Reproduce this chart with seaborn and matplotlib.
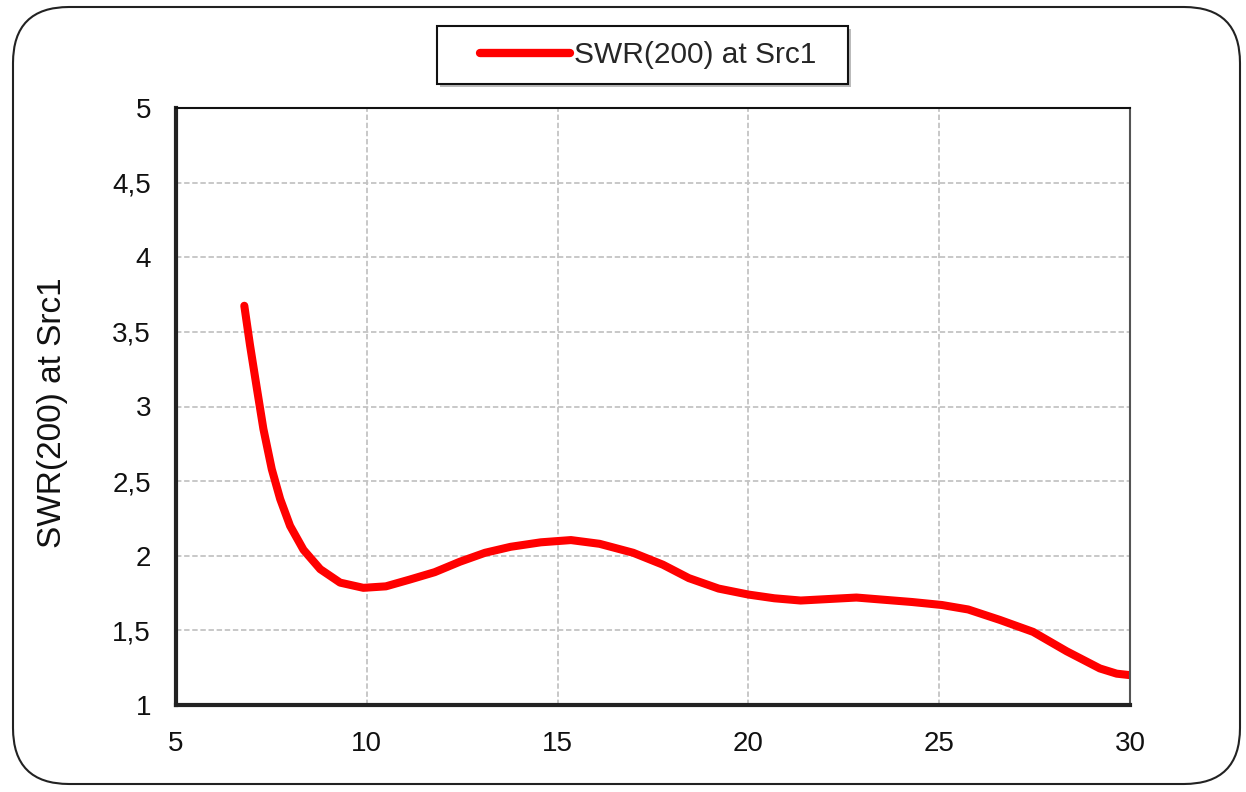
import numpy as np
import pandas as pd
import seaborn as sns
from matplotlib import pyplot as plt
from matplotlib.patches import FancyBboxPatch, Rectangle
from matplotlib.ticker import FixedLocator, FixedFormatter

# values
freq = [6.79, 6.94, 7.12, 7.29, 7.51, 7.73, 7.99, 8.34, 8.78, 9.30, 9.91, 10.5,
        11.12, 11.78, 12.44, 13.1, 13.77, 14.56, 15.35, 16.1, 16.98, 17.76, 18.44,
        19.22, 20.0, 20.68, 21.37, 22.83, 24.29, 25.07, 25.76, 26.59, 27.46, 28.34,
        29.21, 29.65, 30.0]
swr = [3.675, 3.41, 3.12, 2.85, 2.58, 2.38, 2.20, 2.04, 1.91, 1.82, 1.785, 1.795,
       1.84, 1.89, 1.96, 2.02, 2.06, 2.09, 2.105, 2.08, 2.02, 1.94, 1.85,
       1.78, 1.74, 1.715, 1.70, 1.72, 1.69, 1.67, 1.64, 1.57, 1.49, 1.36,
       1.245, 1.21, 1.2]
series_name = 'SWR(200) at Src1'

x_ticks = [5, 10, 15, 20, 25, 30]
y_ticks = [1, 1.5, 2, 2.5, 3, 3.5, 4, 4.5, 5]
y_tick_labels = ['1', '1,5', '2', '2,5', '3', '3,5', '4', '4,5', '5']

df = pd.DataFrame({'freq': freq, 'swr': swr, 'series': series_name})

sns.set_style('white')
plt.rcParams['font.family'] = ['Liberation Sans', 'DejaVu Sans']

W, H = 1246, 792
fig = plt.figure(figsize=(W / 100, H / 100), dpi=100)
ax = fig.add_axes([176 / W, 1 - 705 / H, (1130 - 176) / W, (705 - 108) / H])

# rounded outer frame
fig.patches.append(FancyBboxPatch((13 / W, 8 / H), (1240 - 13) / W, (785 - 8) / H,
                                  boxstyle='round,pad=0,rounding_size=0.045',
                                  transform=fig.transFigure, fill=False,
                                  edgecolor='#222222', linewidth=1.5,
                                  mutation_aspect=W / H))

sns.lineplot(data=df, x='freq', y='swr', hue='series', palette=['#ff0000'],
             linewidth=5.8, ax=ax, legend=True)
for ln in ax.lines:
    ln.set_solid_capstyle('round')
    ln.set_solid_joinstyle('round')

ax.set_xlim(5, 30)
ax.set_ylim(1, 5)
ax.xaxis.set_major_locator(FixedLocator(x_ticks))
ax.yaxis.set_major_locator(FixedLocator(y_ticks))
ax.yaxis.set_major_formatter(FixedFormatter(y_tick_labels))
ax.grid(True, color='#c4c4c4', linestyle=(0, (3, 1.5)), linewidth=1.3)
ax.set_axisbelow(True)

for side in ['left', 'bottom']:
    ax.spines[side].set_linewidth(3)
    ax.spines[side].set_color('#222222')
ax.spines['top'].set_linewidth(1.5)
ax.spines['top'].set_color('#111111')
ax.spines['right'].set_linewidth(1.5)
ax.spines['right'].set_color('#555555')

ax.tick_params(axis='both', direction='out', length=7, width=1.5, color='#333333',
               labelsize=20, labelcolor='#111111')
ax.tick_params(axis='y', pad=11)
ax.tick_params(axis='x', pad=12)
ax.set_xlabel('')
ax.set_ylabel(series_name, fontsize=24, color='#111111')
ax.yaxis.set_label_coords(-0.113, 0.49)

# legend box drawn by hand so the padding matches
handles, labels = ax.get_legend_handles_labels()
ax.legend_.remove()
fig.patches.append(Rectangle((440 / W, 1 - 87 / H), (848 - 437) / W, (84 - 26) / H,
                             transform=fig.transFigure, facecolor='#bbbbbb',
                             edgecolor='none', zorder=1))
fig.patches.append(Rectangle((437 / W, 1 - 84 / H), (848 - 437) / W, (84 - 26) / H,
                             transform=fig.transFigure, facecolor='white',
                             edgecolor='#111111', linewidth=1.5, zorder=2))
leg = fig.legend(handles, labels, loc='center left', bbox_to_anchor=(480 / W, 1 - 55 / H),
                 fontsize=21.5, frameon=False, handlelength=3.0, handletextpad=0.15,
                 borderpad=0, borderaxespad=0)
leg.set_zorder(3)
for h in leg.legend_handles:
    h.set_linewidth(6)
    h.set_solid_capstyle('round')

fig.savefig('out.png', dpi=100)
